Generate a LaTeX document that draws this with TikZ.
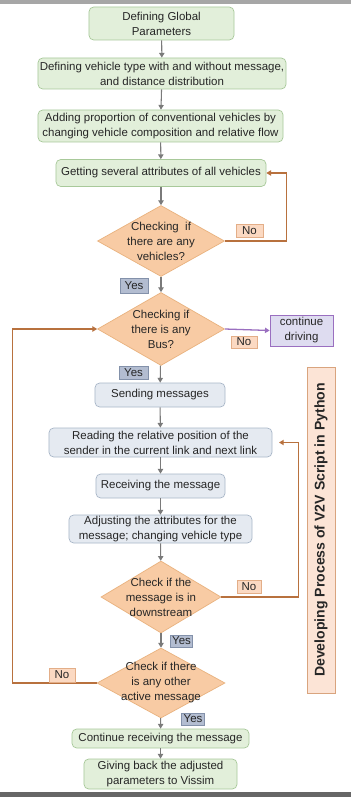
\documentclass[tikz,border=0pt]{standalone}
\usepackage{fontspec}
\setmainfont{Liberation Sans}
\usetikzlibrary{shapes.geometric,arrows.meta}
\definecolor{boxgreen}{HTML}{E2EFDA}
\definecolor{edgegreen}{HTML}{A8C99A}
\definecolor{boxgray}{HTML}{E5EAF1}
\definecolor{edgegray}{HTML}{A9B7C8}
\definecolor{diafill}{HTML}{F8CBA4}
\definecolor{diaedge}{HTML}{E9B27E}
\definecolor{nofill}{HTML}{FBD9C2}
\definecolor{noedge}{HTML}{E3AE88}
\definecolor{yesfill}{HTML}{B3BDD1}
\definecolor{yesedge}{HTML}{8391AA}
\definecolor{drivefill}{HTML}{DEDCF0}
\definecolor{driveedge}{HTML}{9A6FC0}
\definecolor{loopline}{HTML}{B8713E}
\definecolor{flowline}{HTML}{7A7A7A}
\definecolor{sidefill}{HTML}{FCE4D6}
\definecolor{sideedge}{HTML}{D9A47E}
\tikzset{
  txt/.style={font=\fontsize{9.8}{12.8}\selectfont,text=black!85,align=center,inner sep=0pt},
  greenbox/.style={txt,draw=edgegreen,fill=boxgreen,rounded corners=4pt,line width=0.6pt},
  graybox/.style={txt,draw=edgegray,fill=boxgray,rounded corners=4pt,line width=0.6pt},
  decide/.style={diamond,draw=diaedge,fill=diafill,line width=0.6pt,inner sep=0pt},
  nolbl/.style={txt,draw=noedge,fill=nofill,line width=0.5pt},
  yeslbl/.style={txt,draw=yesedge,fill=yesfill,line width=0.5pt},
  flow/.style={draw=flowline,line width=0.9pt,-{Triangle[length=4pt,width=4.5pt]}},
  back/.style={draw=loopline,line width=0.9pt,-{Triangle[length=4pt,width=4.5pt]}},
}
\begin{document}
\begin{tikzpicture}[x=0.03cm,y=-0.03cm]
  \useasboundingbox[fill=white] (0,0) rectangle (351,797);
  \fill[black!35] (0,0) rectangle (351,4);
  \fill[black!60] (0,792) rectangle (351,797);
  \node[greenbox,minimum width=4.35cm,minimum height=0.99cm] (global) at (161.5,23.5) {Defining Global\\Parameters};
  \node[greenbox,minimum width=7.44cm,minimum height=0.93cm] (vtype) at (162,73.5) {Defining vehicle type with and without message,\\and distance distribution};
  \node[greenbox,minimum width=7.35cm,minimum height=0.96cm] (prop) at (160.5,126) {Adding proportion of conventional vehicles by\\changing vehicle composition and relative flow};
  \node[greenbox,minimum width=6.3cm,minimum height=0.81cm] (attr) at (161,173) {Getting several attributes of all vehicles};
  \node[decide,minimum width=3.81cm,minimum height=2.13cm,label={[txt]center:Checking\ \ if\\there are any\\vehicles?}] (anyveh) at (161,241) {};
  \node[decide,minimum width=3.81cm,minimum height=2.19cm,label={[txt]center:Checking if\\there is any\\Bus?}] (anybus) at (161,329) {};
  \node[txt,draw=driveedge,fill=drivefill,line width=0.6pt,minimum width=1.89cm,minimum height=0.93cm] (drive) at (301.5,330.5) {continue\\driving};
  \node[graybox,minimum width=3.9cm,minimum height=0.72cm] (send) at (160,395) {Sending messages};
  \node[graybox,minimum width=6.69cm,minimum height=0.87cm] (read) at (160.5,442.5) {Reading the relative position of the\\sender in the current link and next link};
  \node[graybox,minimum width=3.87cm,minimum height=0.72cm] (recv) at (160.5,486) {Receiving the message};
  \node[graybox,minimum width=5.49cm,minimum height=0.84cm] (adjust) at (160.5,529) {Adjusting the attributes for the\\message; changing vehicle type};
  \node[decide,minimum width=3.6cm,minimum height=2.16cm,label={[txt]center:Check if the\\message is in\\downstream}] (downstr) at (161,597) {};
  \node[decide,minimum width=3.84cm,minimum height=2.1cm,label={[txt]center:Check if there\\is any other\\active message}] (othermsg) at (161,683) {};
  \node[greenbox,minimum width=5.31cm,minimum height=0.57cm] (cont) at (160.5,738.5) {Continue receiving the message};
  \node[greenbox,minimum width=4.59cm,minimum height=0.9cm] (give) at (160.5,774) {Giving back the adjusted\\parameters to Vissim};
  \node[txt,draw=sideedge,fill=sidefill,line width=0.6pt,rotate=90,minimum width=9.78cm,minimum height=0.84cm,font=\fontsize{12}{14}\selectfont\bfseries] (side) at (321,530) {Developing Process of V2V Script in Python};
  \draw[flow] (global) -- (vtype);
  \draw[flow] (vtype) -- (prop);
  \draw[flow] (prop) -- (attr);
  \draw[flow] (attr) -- (anyveh);
  \draw[flow] (anyveh) -- (anybus);
  \draw[flow] (anybus) -- (send);
  \draw[flow] (send) -- (read);
  \draw[flow] (read) -- (recv);
  \draw[flow] (recv) -- (adjust);
  \draw[flow] (adjust) -- (downstr);
  \draw[flow] (downstr) -- (othermsg);
  \draw[flow] (othermsg) -- (cont);
  \draw[flow] (cont) -- (give);
  \draw[back] (anyveh.east) -- ++(62,0) |- (attr.east);
  \draw[flow,draw=driveedge,line width=1.1pt] (anybus.east) -- (drive.west);
  \draw[back,shorten >=2mm] (downstr.east) -- ++(77,0) |- (read.east);
  \draw[back] (othermsg.west) -- ++(-84,0) |- (anybus.west);
  \node[nolbl,minimum width=0.81cm,minimum height=0.39cm] (no1) at (249.5,230.5) {No};
  \node[yeslbl,minimum width=0.84cm,minimum height=0.45cm] (yes1) at (134,285.5) {Yes};
  \node[nolbl,minimum width=0.78cm,minimum height=0.36cm] (no2) at (244,342) {No};
  \node[yeslbl,minimum width=0.87cm,minimum height=0.39cm] (yes2) at (133.5,372.5) {Yes};
  \node[nolbl,minimum width=0.72cm,minimum height=0.39cm] (no3) at (249,586.5) {No};
  \node[yeslbl,minimum width=0.66cm,minimum height=0.36cm] (yes3) at (181.5,641) {Yes};
  \node[nolbl,minimum width=0.78cm,minimum height=0.42cm] (no4) at (62,675) {No};
  \node[yeslbl,minimum width=0.69cm,minimum height=0.36cm] (yes4) at (193,719) {Yes};
\end{tikzpicture}
\end{document}
